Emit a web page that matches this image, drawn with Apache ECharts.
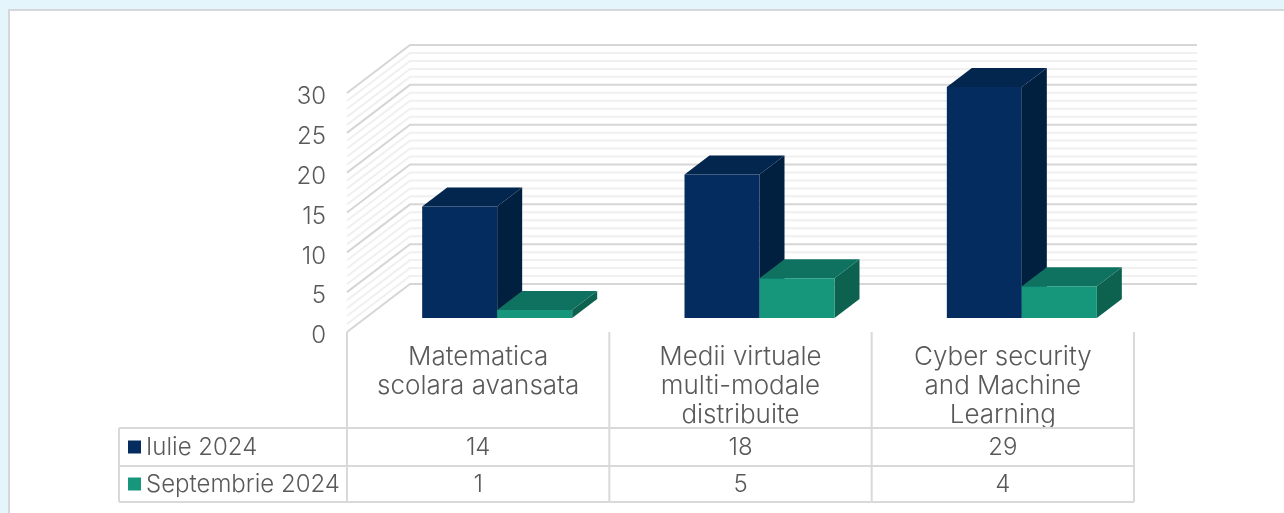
<!DOCTYPE html>
<html><head><meta charset="utf-8">
<style>html,body{margin:0;padding:0;background:#fff}#c{width:1284px;height:513px}</style>
<script src="https://cdn.jsdelivr.net/npm/echarts@6/dist/echarts.min.js"></script></head>
<body><div id="c"></div>
<script>
const categories = ['Matematica\nscolara avansata','Medii virtuale\nmulti-modale\ndistribuite','Cyber security\nand Machine\nLearning'];
const seriesNames = ['Iulie 2024','Septembrie 2024'];
const iulie = [14,18,29];
const septembrie = [1,5,4];
const wallTicks = [0,1,2,3,4,5,6,7,8,9,10,11,12,13,14,15,16,17,18,19,20,21,22,23,24,25,26,27,28,29,30];
const FONT = 'Inter', W = 300, TXT = '#595959', FS = 24;
const faces = [{face:'#042c5e',top:'#03264f',side:'#011f3e'},{face:'#16967b',top:'#0f7260',side:'#0c614f'}];
const LINE = '#d9d9d9';
const chart = echarts.init(document.getElementById('c'),null,{renderer:'canvas'});

function box(seriesIdx){
  const c = faces[seriesIdx];
  return function(p,api){
    const i = api.value(0), v = api.value(1);
    const base = api.coord([i,0]), top = api.coord([i,v]);
    const w = 75, dx = 19, dy = 14, ox = 25, oy = 19;
    const x0 = base[0]+dx+(seriesIdx===0?-w:0), x1 = x0+w, yb = base[1]-dy, yt = top[1]-dy;
    return {type:'group',children:[
      {type:'polygon',shape:{points:[[x1,yb],[x1+ox,yb-oy],[x1+ox,yt-oy],[x1,yt]]},style:{fill:c.side}},
      {type:'polygon',shape:{points:[[x0,yt],[x0+ox,yt-oy],[x1+ox,yt-oy],[x1,yt]]},style:{fill:c.top}},
      {type:'rect',shape:{x:x0,y:yt,width:w,height:yb-yt},style:{fill:c.face}}
    ]};
  };
}
function wall(p,api){
  const v = api.value(0), y = api.coord([0,v])[1], band = api.size([1,0])[0];
  const left = api.coord([0,0])[0]-band/2, right = left+band*3;
  const major = v%5===0;
  return {type:'polyline',shape:{points:[[left,y],[left+63,y-48],[right+63,y-48]]},
    style:{fill:null,stroke:major?'#d6d6d6':'#f0f0f0',lineWidth:2}};
}
function table(p,api){
  const i = api.value(0), base = api.coord([i,0]), band = api.size([1,0])[0];
  const cx = base[0], r = cx+band/2, l = cx-band/2, y0 = base[1];
  const kids = [
    {type:'line',shape:{x1:r,y1:y0,x2:r,y2:y0+170},style:{stroke:LINE,lineWidth:2}},
    {type:'line',shape:{x1:l,y1:y0+96,x2:r,y2:y0+96},style:{stroke:LINE,lineWidth:2}},
    {type:'line',shape:{x1:l,y1:y0+134,x2:r,y2:y0+134},style:{stroke:LINE,lineWidth:2}},
    {type:'line',shape:{x1:l,y1:y0+170,x2:r,y2:y0+170},style:{stroke:LINE,lineWidth:2}},
    {type:'text',style:{text:String(iulie[i]),x:cx,y:y0+116,align:'center',verticalAlign:'middle',fill:TXT,font:`${W} ${FS}px ${FONT}`}},
    {type:'text',style:{text:String(septembrie[i]),x:cx,y:y0+153,align:'center',verticalAlign:'middle',fill:TXT,font:`${W} ${FS}px ${FONT}`}}
  ];
  if(i===0){
    const lx = l-228;
    kids.push({type:'line',shape:{x1:l,y1:y0,x2:l,y2:y0+170},style:{stroke:LINE,lineWidth:2}});
    kids.push({type:'line',shape:{x1:lx,y1:y0+96,x2:lx,y2:y0+170},style:{stroke:LINE,lineWidth:2}});
    [96,134,170].forEach(d=>kids.push({type:'line',shape:{x1:lx,y1:y0+d,x2:l,y2:y0+d},style:{stroke:LINE,lineWidth:2}}));
    seriesNames.forEach((n,k)=>{
      const cy = y0+115+k*37;
      kids.push({type:'rect',shape:{x:lx+9,y:cy-6.5,width:13,height:13},style:{fill:faces[k].face}});
      kids.push({type:'text',style:{text:n,x:lx+27,y:cy+1,align:'left',verticalAlign:'middle',fill:TXT,font:`${W} ${FS}px ${FONT}`}});
    });
  }
  return {type:'group',children:kids};
}
const cats = categories.map((_,i)=>i);
chart.setOption({
  animation:false,
  backgroundColor:'#ffffff',
  graphic:[
    {type:'rect',silent:true,z:-1,shape:{x:0,y:0,width:1284,height:9},style:{fill:'#e4f6fc'}},
    {type:'rect',silent:true,z:-1,shape:{x:0,y:0,width:8,height:513},style:{fill:'#e4f6fc'}},
    {type:'rect',silent:true,z:-1,shape:{x:8,y:9,width:1276,height:2},style:{fill:'#d4d8da'}},
    {type:'rect',silent:true,z:-1,shape:{x:8,y:9,width:2,height:504},style:{fill:'#d4d8da'}}
  ],
  grid:{left:347,top:93,width:787,height:239},
  xAxis:{type:'category',data:categories,boundaryGap:true,
    axisLine:{show:false},axisTick:{show:false},splitLine:{show:false},
    axisLabel:{interval:0,margin:11,color:TXT,fontFamily:FONT,fontWeight:W,fontSize:26,lineHeight:29,align:'center',verticalAlign:'top'}},
  yAxis:{type:'value',min:0,max:30,interval:5,
    axisLine:{show:false},axisTick:{show:false},splitLine:{show:false},
    axisLabel:{margin:21,color:TXT,fontFamily:FONT,fontWeight:W,fontSize:24,verticalAlign:'top',padding:[-8,0,0,0]}},
  series:[
    {type:'custom',name:'wall',silent:true,z:1,data:wallTicks.map(v=>[v]),renderItem:wall,encode:{x:[],y:0}},
    {type:'custom',name:seriesNames[0],z:2,data:cats.map(i=>[i,iulie[i]]),renderItem:box(0),encode:{x:0,y:1}},
    {type:'custom',name:seriesNames[1],z:3,data:cats.map(i=>[i,septembrie[i]]),renderItem:box(1),encode:{x:0,y:1}},
    {type:'custom',name:'table',silent:true,z:4,data:cats.map(i=>[i,0]),renderItem:table,encode:{x:0,y:1},clip:false}
  ]
});
</script></body></html>
